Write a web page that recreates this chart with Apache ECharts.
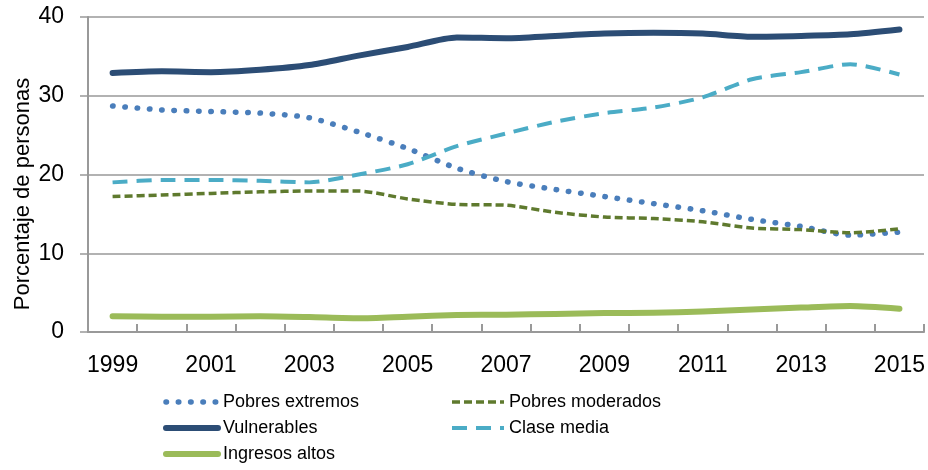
<!DOCTYPE html>
<html>
<head>
<meta charset="utf-8">
<script src="https://cdn.jsdelivr.net/npm/echarts@6/dist/echarts.min.js"></script>
<style>
html,body{margin:0;padding:0;background:#fff;}
#chart{width:928px;height:470px;}
</style>
</head>
<body>
<div id="chart"></div>
<script>
const years = ['1999','2000','2001','2002','2003','2004','2005','2006','2007','2008','2009','2010','2011','2012','2013','2014','2015'];
const pobresExtremos  = [28.7, 28.2, 28.0, 27.8, 27.2, 25.4, 23.3, 20.8, 19.1, 18.1, 17.2, 16.3, 15.4, 14.3, 13.4, 12.3, 12.7];
const pobresModerados = [17.2, 17.4, 17.6, 17.8, 17.9, 17.9, 16.9, 16.2, 16.1, 15.2, 14.6, 14.4, 14.0, 13.2, 13.0, 12.6, 13.1];
const vulnerables     = [32.9, 33.1, 33.0, 33.3, 33.9, 35.1, 36.2, 37.4, 37.3, 37.6, 37.9, 38.0, 37.9, 37.5, 37.6, 37.8, 38.4];
const claseMedia      = [19.0, 19.3, 19.3, 19.2, 19.0, 20.0, 21.3, 23.6, 25.2, 26.7, 27.8, 28.5, 29.8, 32.1, 33.0, 34.0, 32.7];
const ingresosAltos   = [2.0, 1.95, 1.95, 2.0, 1.9, 1.75, 1.95, 2.15, 2.2, 2.3, 2.4, 2.45, 2.6, 2.85, 3.1, 3.3, 2.95];
const yTicks = [0, 10, 20, 30, 40];

const FONT = "'Liberation Sans', Arial, sans-serif";
const chart = echarts.init(document.getElementById('chart'));

function mkSeries(name, data, color, width, type, cap) {
  return {
    name: name, type: 'line', data: data, smooth: 0.25,
    symbol: 'none', showSymbol: false,
    lineStyle: { color: color, width: width, type: type, cap: cap || 'round', join: 'round' },
    itemStyle: { color: color },
    emphasis: { disabled: true }
  };
}

const legendCommon = {
  orient: 'vertical', top: 392, padding: 0,
  itemWidth: 52, itemHeight: 14, itemGap: 6,
  textStyle: { fontFamily: FONT, fontSize: 18, color: '#000', lineHeight: 20 },
  itemStyle: { opacity: 0 },
  lineStyle: { width: 'inherit', type: 'inherit', cap: 'inherit' },
  selectedMode: false
};

chart.setOption({
  animation: false,
  grid: { left: 88, right: 3, top: 17, bottom: 138 },
  graphic: [{
    type: 'text', x: 23, y: 194, rotation: Math.PI / 2,
    style: { text: 'Porcentaje de personas', font: '22px ' + FONT, fill: '#000',
             align: 'center', verticalAlign: 'middle' }
  }],
  legend: [
    Object.assign({}, legendCommon, { left: 163, data: ['Pobres extremos', 'Vulnerables', 'Ingresos altos'] }),
    Object.assign({}, legendCommon, { left: 450, data: ['Pobres moderados', 'Clase media'] })
  ],
  xAxis: {
    type: 'category', data: years, boundaryGap: true,
    axisLine: { lineStyle: { color: '#999', width: 2 } },
    axisTick: { show: true, inside: true, length: 8, interval: 0, lineStyle: { color: '#999', width: 2 } },
    axisLabel: { interval: 1, margin: 22, fontFamily: FONT, fontSize: 23, color: '#000' },
    splitLine: { show: false }
  },
  yAxis: {
    type: 'value', min: 0, max: 40, interval: 10,
    axisLine: { show: true, lineStyle: { color: '#999', width: 2 } },
    axisTick: { show: true, length: 8, lineStyle: { color: '#999', width: 1.5 } },
    axisLabel: { margin: 24, fontFamily: FONT, fontSize: 23, color: '#000',
                 formatter: function (v) { return yTicks.indexOf(v) >= 0 ? String(v) : ''; } },
    splitLine: { show: true, lineStyle: { color: '#999', width: 1.5 } }
  },
  series: [
    mkSeries('Pobres extremos', pobresExtremos, '#4a7ebb', 5.5, [0.5, 11.8], 'round'),
    mkSeries('Pobres moderados', pobresModerados, '#5f7a2e', 3.5, [8, 4], 'butt'),
    mkSeries('Vulnerables', vulnerables, '#2c4d75', 6, 'solid', 'round'),
    mkSeries('Clase media', claseMedia, '#4bacc6', 4, [15, 9], 'butt'),
    mkSeries('Ingresos altos', ingresosAltos, '#9bbb59', 6, 'solid', 'round')
  ]
});
</script>
</body>
</html>
